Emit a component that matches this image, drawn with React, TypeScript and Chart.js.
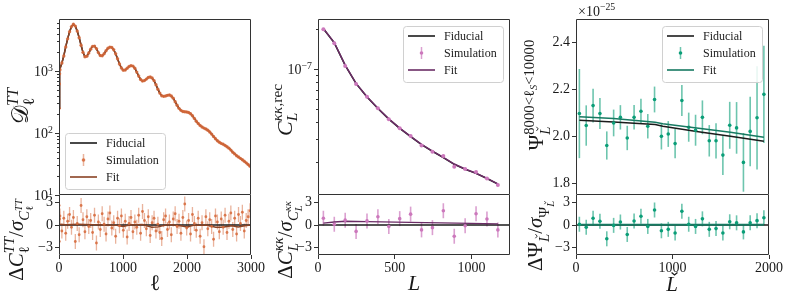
import React, { useEffect, useRef } from "react";
import { Chart, registerables } from "chart.js";
Chart.register(...registerables);

const W = 789;
const H = 300;
const FONT = '"Liberation Serif", "DejaVu Serif", "DejaVu Sans", serif';
const TEXT_C = "#1a1a1a";
const AXIS_C = "#333333";
const TICK_SIZE = 14;
const TITLE_SIZE = 21;

// ---------------- data: CMB TT ----------------
const TT_ELL = [2, 5, 9, 15, 45, 75, 105, 135, 165, 195, 225, 255, 285, 315, 345, 375, 405, 435, 465, 495, 525, 555, 585, 615, 645, 675, 705, 735, 765, 795, 825, 855, 885, 915, 945, 975, 1005, 1035, 1065, 1095, 1125, 1155, 1185, 1215, 1245, 1275, 1305, 1335, 1365, 1395, 1425, 1455, 1485, 1515, 1545, 1575, 1605, 1635, 1665, 1695, 1725, 1755, 1785, 1815, 1845, 1875, 1905, 1935, 1965, 1995, 2025, 2055, 2085, 2115, 2145, 2175, 2205, 2235, 2265, 2295, 2325, 2355, 2385, 2415, 2445, 2475, 2505, 2535, 2565, 2595, 2625, 2655, 2685, 2715, 2745, 2775, 2805, 2835, 2865, 2895, 2925, 2955, 2985];
const TT_DL = [250, 620, 900,
  1050, 1350, 1750, 2450, 3300, 4300, 5200, 5700, 5300, 4400,
  3450, 2600, 2000, 1700, 1730, 1950, 2250, 2500, 2520, 2300,
  1980, 1780, 1760, 1900, 2120, 2330, 2430, 2400, 2200, 1900,
  1580, 1300, 1120, 1030, 1040, 1110, 1180, 1220, 1200, 1110,
  960, 830, 730, 690, 700, 740, 785, 800, 770, 700,
  600, 510, 440, 400, 390, 395, 405, 410, 395, 365,
  320, 280, 250, 232, 222, 220, 218, 214, 205, 190,
  172, 155, 142, 132, 125, 120, 116, 111, 104, 96,
  88, 81, 75, 71, 68, 66, 63, 60, 57, 53,
  49, 46, 43, 41, 39, 37, 35, 33, 31, 29];
const TT_RES = [2.6, -2.2, 0.8,
  1.2, -0.8, 0.9, -1.1, 0.5, 1.4, -0.3, 1.0, -2.2, 0.2,
  -1.3, 2.6, 0.7, -0.9, 1.1, -0.2, 0.6, -1.0, 1.3, -2.4,
  0.4, -0.6, 1.5, 0.1, -1.2, 0.8, 1.6, -0.4, 0.3, -1.5,
  0.9, -0.1, 1.2, -0.7, 0.5, -1.6, 0.2, 1.0, -0.9, 0.4,
  -0.3, 1.3, -1.1, 1.8, 0.6, -0.5, 1.1, -1.4, 0.3, 0.9,
  -0.8, 0.1, -1.0, -1.8, 0.7, 1.2, -0.6, 0.4, -1.3, 0.8,
  1.5, -0.2, 0.5, -1.1, 1.0, 2.8, -0.4, 0.6, -1.2, 1.4,
  0.2, -0.7, 0.9, -1.5, 0.3, -2.9, 1.1, -0.5, 0.7, -0.2,
  -1.9, 1.2, 0.4, -0.9, 0.8, -0.3, 1.3, -1.0, 0.5, 1.6,
  -0.6, 0.9, -1.2, 1.4, 0.2, 1.7, -0.8, 0.6, 1.1, 1.9];
const TT_FITRES_ELL = [2, 100, 300, 500, 700, 900, 1000, 1100, 1300, 1450, 1550, 1700, 1900, 2000, 2100, 2300, 2450, 2550, 2700, 2800, 2900, 3000];
const TT_FITRES = [0.1, 0.05, 0.1, 0.05, 0.0, -0.05, -0.2, 0.0, 0.05, -0.3, -0.25, 0.05, -0.1, -0.25, -0.05, 0.0, -0.3, -0.3, -0.1, -0.25, -0.1, 0.0];
const TT_ZERO_X = [0, 3000];

// ---------------- data: lensing kappa-kappa ----------------
const KK_L = [35, 106, 177, 248, 319, 390, 461, 532, 603, 674, 745, 816, 887, 958, 1029, 1100, 1171];
const KK_SIM = [2.0e-7, 1.57e-7, 1.06e-7, 7.75e-8, 6.22e-8, 5.09e-8, 4.21e-8, 3.6e-8, 3.15e-8, 2.67e-8, 2.4e-8, 2.23e-8, 1.85e-8, 1.78e-8, 1.69e-8, 1.51e-8, 1.35e-8];
const KK_FID = [2.02e-7, 1.58e-7, 1.07e-7, 7.8e-8, 6.2e-8, 5.08e-8, 4.22e-8, 3.6e-8, 3.12e-8, 2.72e-8, 2.42e-8, 2.17e-8, 1.93e-8, 1.77e-8, 1.65e-8, 1.51e-8, 1.37e-8];
const KK_FIT = [2.03e-7, 1.59e-7, 1.075e-7, 7.84e-8, 6.23e-8, 5.1e-8, 4.24e-8, 3.61e-8, 3.13e-8, 2.73e-8, 2.43e-8, 2.18e-8, 1.94e-8, 1.78e-8, 1.655e-8, 1.515e-8, 1.375e-8];
const KK_RES = [0.9, 0.1, 0.65, -0.85, 0.55, 1.1, -0.2, 0.85, 1.45, -0.65, -0.35, 1.9, -1.5, -0.1, 1.5, 0.8, -0.65];
const KK_FITRES_L = [35, 106, 177, 320, 600, 900, 1171];
const KK_FITRES = [0.25, 0.4, 0.5, 0.45, 0.35, 0.25, 0.15];
const KK_ZERO_X = [0, 1250];

// ---------------- data: Psi ----------------
const PSI_L = [35, 106, 177, 248, 319, 390, 460, 531, 602, 673, 744, 814, 885, 956, 1027, 1097, 1168, 1239, 1310, 1381, 1451, 1522, 1593, 1664, 1735, 1805, 1876, 1947];
const PSI_SIM = [2.097, 2.046, 2.131, 2.097, 1.961, 2.057, 2.081, 1.993, 2.081, 2.107, 2.043, 2.157, 2.0, 2.01, 1.969, 2.153, 2.039, 2.026, 2.081, 1.981, 1.981, 1.92, 2.047, 2.036, 1.889, 2.021, 2.079, 2.179];
const PSI_ERR = [0.19, 0.086, 0.072, 0.066, 0.06, 0.057, 0.052, 0.052, 0.052, 0.053, 0.052, 0.055, 0.056, 0.055, 0.062, 0.066, 0.062, 0.066, 0.072, 0.067, 0.075, 0.085, 0.1, 0.11, 0.125, 0.148, 0.22, 0.207];
const PSI_RES = [0.1, -0.3, 0.9, 0.5, -1.84, -0.05, 0.4, -1.26, 0.53, 1.16, -0.19, 2.0, -0.77, -0.58, -1.06, 1.84, 0.1, -0.19, 0.82, -0.58, -0.48, -1.06, 0.43, 0.29, -0.92, 0.29, 0.58, 0.97];
const PSI_CURVE_L = [35, 390, 820, 900, 1250, 1600, 1947];
const PSI_FID = [2.069, 2.061, 2.05, 2.043, 2.021, 2.0, 1.979];
const PSI_FIT = [2.083, 2.076, 2.06, 2.054, 2.036, 2.017, 1.996];
const PSI_FITRES_L = [35, 1947];
const PSI_FITRES = [0.04, 0.04];
const PSI_ZERO_X = [0, 2000];

const ZERO_Y = [0, 0];
const RES_SIGMA = 1;

// ---------------- ticks ----------------
const TT_X_TICKS = [0, 1000, 2000, 3000];
const KK_X_TICKS = [0, 500, 1000];
const PSI_X_TICKS = [0, 1000, 2000];
const RES_Y_TICKS = [-3, 0, 3];
const PSI_Y_TICKS = [1.8, 2.0, 2.2, 2.4];
const TT_Y_MAJOR = [10, 100, 1000];
const TT_Y_EXP = ["1", "2", "3"];
const TT_Y_MINOR = [20, 30, 40, 50, 60, 70, 80, 90, 200, 300, 400, 500, 600, 700, 800, 900, 2000, 3000, 4000, 5000, 6000];
const KK_Y_MAJOR = [1e-7];
const KK_Y_EXP = ["−7"];
const KK_Y_MINOR = [2e-8, 3e-8, 4e-8, 5e-8, 6e-8, 7e-8, 8e-8, 9e-8, 2e-7];

// ---------------- colours ----------------
const FID_C = "#1b1b1b";
const TT_SIM_C = "rgba(214,104,58,0.85)";
const TT_BAR_C = "rgba(214,104,58,0.5)";
const TT_FIT_C = "#8a4325";
const KK_SIM_C = "#cc78bc";
const KK_BAR_C = "rgba(204,120,188,0.7)";
const KK_FIT_C = "#6b2d66";
const PSI_SIM_C = "#0b9e78";
const PSI_BAR_C = "rgba(11,158,120,0.6)";
const PSI_FIT_C = "#177a62";

// ---------------- layout ----------------
const Y_W = 45;
const X_H = 30;
const TOP = 19, MID = 195, BOT = 255;
const COLS = [
  { l: 59, r: 251 },
  { l: 318, r: 510 },
  { l: 576, r: 769 },
];

type Seg = { t: string; s?: number; dy?: number; it?: boolean; m?: boolean; r?: boolean; acc?: boolean };

function drawRich(ctx: CanvasRenderingContext2D, segs: Seg[], size: number, cx: number, cy: number, rot: boolean, align: string) {
  ctx.save();
  ctx.translate(cx, cy);
  if (rot) ctx.rotate(-Math.PI / 2);
  const placed: any[] = [];
  let x = 0;
  let mark = 0;
  for (const sg of segs) {
    const fs = size * (sg.s ?? 1);
    const font = `${sg.it ? "italic " : ""}${fs}px ${FONT}`;
    ctx.font = font;
    const w = ctx.measureText(sg.t).width;
    if (sg.m) mark = x;
    let start = x;
    let end = x + w;
    if (sg.r) {
      start = mark;
      end = Math.max(x, start + w);
    }
    placed.push({ sg, fs, font, start, w });
    x = end;
  }
  const off = align === "center" ? -x / 2 : align === "right" ? -x : 0;
  const base = size * 0.35;
  ctx.fillStyle = TEXT_C;
  ctx.textBaseline = "alphabetic";
  ctx.textAlign = "left";
  for (const p of placed) {
    ctx.font = p.font;
    const yy = base - (p.sg.dy ?? 0) * size;
    ctx.fillText(p.sg.t, off + p.start, yy);
    if (p.sg.acc) {
      // caron drawn as a small "v" above the capital letter
      const cxa = off + p.start + p.w / 2 + p.fs * 0.12;
      const top = yy - p.fs * 0.9;
      const hw = p.fs * 0.14;
      ctx.strokeStyle = TEXT_C;
      ctx.lineWidth = Math.max(0.9, p.fs * 0.06);
      ctx.beginPath();
      ctx.moveTo(cxa - hw, top);
      ctx.lineTo(cxa, top + p.fs * 0.12);
      ctx.lineTo(cxa + hw, top);
      ctx.stroke();
    }
  }
  ctx.restore();
}

function drawLegend(ctx: CanvasRenderingContext2D, lg: any) {
  const { x, y, w, h, rows } = lg;
  ctx.save();
  ctx.beginPath();
  (ctx as any).roundRect(x + 0.5, y + 0.5, w, h, 3);
  ctx.fillStyle = "rgba(255,255,255,0.85)";
  ctx.fill();
  ctx.strokeStyle = "#d0d0d0";
  ctx.lineWidth = 1;
  ctx.stroke();
  rows.forEach((row: any, i: number) => {
    const cy = y + 10 + i * 17;
    if (row.kind === "line") {
      ctx.strokeStyle = row.color;
      ctx.lineWidth = 1.6;
      ctx.beginPath();
      ctx.moveTo(x + 5, cy);
      ctx.lineTo(x + 32, cy);
      ctx.stroke();
    } else {
      ctx.strokeStyle = row.bar;
      ctx.lineWidth = 1.5;
      ctx.beginPath();
      ctx.moveTo(x + 18.5, cy - 6);
      ctx.lineTo(x + 18.5, cy + 6);
      ctx.stroke();
      ctx.fillStyle = row.color;
      ctx.beginPath();
      ctx.arc(x + 18.5, cy, 1.8, 0, Math.PI * 2);
      ctx.fill();
    }
    ctx.fillStyle = TEXT_C;
    ctx.font = `12px ${FONT}`;
    ctx.textAlign = "left";
    ctx.textBaseline = "middle";
    ctx.fillText(row.label, x + 41, cy + 0.5);
  });
  ctx.restore();
}

function makeDeco(spec: any) {
  return {
    id: "deco",
    beforeDatasetsDraw(chart: any) {
      const ctx = chart.ctx as CanvasRenderingContext2D;
      const a = chart.chartArea;
      chart.data.datasets.forEach((ds: any, i: number) => {
        if (ds.errs === undefined) return;
        const meta = chart.getDatasetMeta(i);
        const xs = chart.scales[meta.xAxisID];
        const ys = chart.scales[meta.yAxisID];
        ctx.save();
        ctx.beginPath();
        ctx.rect(a.left, a.top, a.right - a.left, a.bottom - a.top);
        ctx.clip();
        ctx.strokeStyle = ds.errColor;
        ctx.lineWidth = ds.errWidth;
        ds.data.forEach((p: any, j: number) => {
          const e = Array.isArray(ds.errs) ? ds.errs[j] : ds.errs;
          const px = xs.getPixelForValue(p.x);
          ctx.beginPath();
          ctx.moveTo(px, ys.getPixelForValue(p.y - e));
          ctx.lineTo(px, ys.getPixelForValue(p.y + e));
          ctx.stroke();
        });
        ctx.restore();
      });
    },
    afterDraw(chart: any) {
      const ctx = chart.ctx as CanvasRenderingContext2D;
      const a = chart.chartArea;
      const L = a.left + 0.5, R = a.right - 0.5, T = a.top + 0.5, B = a.bottom - 0.5;
      ctx.save();
      ctx.strokeStyle = AXIS_C;
      ctx.lineWidth = 1;
      ctx.beginPath();
      if (spec.noTopEdge) {
        ctx.moveTo(L, a.top);
        ctx.lineTo(L, B);
        ctx.lineTo(R, B);
        ctx.lineTo(R, a.top);
      } else {
        ctx.rect(L, T, R - L, B - T);
      }
      ctx.stroke();
      ctx.restore();
      if (spec.log) {
        const ys = chart.scales.y;
        ctx.save();
        ctx.strokeStyle = AXIS_C;
        ctx.lineWidth = 1;
        spec.log.minor.forEach((v: number) => {
          const py = Math.round(ys.getPixelForValue(v)) + 0.5;
          ctx.beginPath();
          ctx.moveTo(a.left - 2, py);
          ctx.lineTo(a.left, py);
          ctx.stroke();
        });
        spec.log.major.forEach((v: number, i: number) => {
          const py = Math.round(ys.getPixelForValue(v)) + 0.5;
          ctx.beginPath();
          ctx.moveTo(a.left - 4, py);
          ctx.lineTo(a.left, py);
          ctx.stroke();
          drawRich(ctx, [{ t: "10" }, { t: spec.log.exps[i], s: 0.7, dy: 0.42 }], TICK_SIZE, a.left - 6, py, false, "right");
        });
        ctx.restore();
      }
      (spec.texts || []).forEach((tx: any) => drawRich(ctx, tx.segs, tx.size, tx.x, tx.y, tx.rot, tx.align || "center"));
      if (spec.legend) drawLegend(ctx, spec.legend);
    },
  };
}

const pts = (xs: number[], ys: number[]) => xs.map((x, i) => ({ x, y: ys[i] }));
const lineDs = (xs: number[], ys: number[], color: string, order: number, width = 1.5) => ({
  data: pts(xs, ys), showLine: true, pointRadius: 0, borderColor: color, backgroundColor: color, borderWidth: width, tension: 0, order,
});
const markDs = (xs: number[], ys: number[], color: string, r: number, order: number, errs?: any, errColor?: string, errWidth = 1.3) => ({
  data: pts(xs, ys), showLine: false, pointRadius: r, pointBorderWidth: 0, borderWidth: 0, backgroundColor: color, pointBackgroundColor: color, borderColor: color, order, errs, errColor, errWidth,
});

function xScale(min: number, max: number, ticks: number[], show: boolean) {
  return {
    type: "linear", min, max, display: show,
    afterBuildTicks: (ax: any) => { ax.ticks = ticks.map((v) => ({ value: v })); },
    afterFit: (ax: any) => { ax.height = show ? X_H : 0; },
    grid: { display: true, drawOnChartArea: false, drawTicks: true, tickLength: 4, color: AXIS_C, lineWidth: 1 },
    border: { display: false },
    ticks: { autoSkip: false, maxRotation: 0, padding: 1, color: TEXT_C, font: { family: FONT, size: TICK_SIZE }, callback: (v: number) => String(v) },
  };
}
function yLinear(min: number, max: number, ticks: number[], fmt: (v: number) => string) {
  return {
    type: "linear", min, max,
    afterBuildTicks: (ax: any) => { ax.ticks = ticks.map((v) => ({ value: v })); },
    afterFit: (ax: any) => { ax.width = Y_W; },
    grid: { display: true, drawOnChartArea: false, drawTicks: true, tickLength: 4, color: AXIS_C, lineWidth: 1 },
    border: { display: false },
    ticks: { autoSkip: false, padding: 2, color: TEXT_C, font: { family: FONT, size: TICK_SIZE }, callback: fmt },
  };
}
function yLog(min: number, max: number) {
  return {
    type: "logarithmic", min, max,
    afterFit: (ax: any) => { ax.width = Y_W; },
    grid: { display: false }, border: { display: false }, ticks: { display: false },
  };
}
const resFmt = (v: number) => (v < 0 ? "−" + Math.abs(v) : String(v));

function makeConfig(col: number, top: boolean, xMin: number, xMax: number, xTicks: number[], y: any, datasets: any[], spec: any) {
  const c = COLS[col];
  const t = top ? TOP : MID;
  const b = top ? MID : BOT;
  return {
    type: "scatter",
    data: { datasets },
    options: {
      responsive: false, animation: false, devicePixelRatio: 1, events: [],
      layout: { padding: { left: c.l - Y_W, top: t, right: W - c.r, bottom: H - b - (top ? 0 : X_H) } },
      plugins: { legend: { display: false }, tooltip: { enabled: false } },
      scales: { x: xScale(xMin, xMax, xTicks, !top), y },
    },
    plugins: [makeDeco({ ...spec, noTopEdge: !top })],
  };
}

const legendRows = (sim: string, bar: string, fit: string) => [
  { kind: "line", color: FID_C, label: "Fiducial" },
  { kind: "err", color: sim, bar, label: "Simulation" },
  { kind: "line", color: fit, label: "Fit" },
];

const CONFIGS = [
  makeConfig(0, true, 0, 3000, TT_X_TICKS, yLog(10, 6900), [
    markDs(TT_ELL, TT_DL, TT_SIM_C, 1.7, 0),
    lineDs(TT_ELL, TT_DL, TT_FIT_C, 1),
    lineDs(TT_ELL, TT_DL, FID_C, 2),
  ], {
    log: { major: TT_Y_MAJOR, exps: TT_Y_EXP, minor: TT_Y_MINOR },
    legend: { x: 65, y: 133, w: 100, h: 56, rows: legendRows(TT_SIM_C, TT_BAR_C, TT_FIT_C) },
    texts: [{ segs: [{ t: "𝒟" }, { t: "TT", s: 0.7, dy: 0.45, it: true, m: true }, { t: "ℓ", s: 0.7, dy: -0.25, r: true }], size: 23, x: 20, y: 106, rot: true }],
  }),
  makeConfig(0, false, 0, 3000, TT_X_TICKS, yLinear(-4, 4, RES_Y_TICKS, resFmt), [
    markDs(TT_ELL, TT_RES, TT_SIM_C, 1.4, 0, RES_SIGMA, TT_BAR_C, 1.3),
    lineDs(TT_FITRES_ELL, TT_FITRES, TT_FIT_C, 1),
    lineDs(TT_ZERO_X, ZERO_Y, FID_C, 2),
  ], {
    texts: [
      { segs: [{ t: "Δ" }, { t: "C", it: true }, { t: "TT", s: 0.7, dy: 0.45, it: true, m: true }, { t: "ℓ", s: 0.7, dy: -0.25, r: true }, { t: "/" }, { t: "σ", it: true }, { t: "C", s: 0.7, dy: -0.25, it: true }, { t: "TT", s: 0.5, dy: 0.05, it: true, m: true }, { t: "ℓ", s: 0.5, dy: -0.45, r: true }], size: TITLE_SIZE, x: 16, y: 240, rot: true },
      { segs: [{ t: "ℓ" }], size: 22, x: 155, y: 282, rot: false },
    ],
  }),
  makeConfig(1, true, 0, 1250, KK_X_TICKS, yLog(1.135e-8, 2.39e-7), [
    markDs(KK_L, KK_SIM, KK_SIM_C, 2, 0),
    lineDs(KK_L, KK_FIT, KK_FIT_C, 1),
    lineDs(KK_L, KK_FID, FID_C, 2),
  ], {
    log: { major: KK_Y_MAJOR, exps: KK_Y_EXP, minor: KK_Y_MINOR },
    legend: { x: 403, y: 26, w: 100, h: 56, rows: legendRows(KK_SIM_C, KK_BAR_C, KK_FIT_C) },
    texts: [{ segs: [{ t: "C", it: true }, { t: "κκ", s: 0.7, dy: 0.45, it: true, m: true }, { t: ",rec", s: 0.7, dy: 0.45 }, { t: "L", s: 0.7, dy: -0.25, it: true, r: true }], size: 22, x: 284, y: 110, rot: true }],
  }),
  makeConfig(1, false, 0, 1250, KK_X_TICKS, yLinear(-4, 4, RES_Y_TICKS, resFmt), [
    markDs(KK_L, KK_RES, KK_SIM_C, 1.8, 0, RES_SIGMA, KK_BAR_C, 1.6),
    lineDs(KK_FITRES_L, KK_FITRES, KK_FIT_C, 1),
    lineDs(KK_ZERO_X, ZERO_Y, FID_C, 2),
  ], {
    texts: [
      { segs: [{ t: "Δ" }, { t: "C", it: true }, { t: "κκ", s: 0.7, dy: 0.45, it: true, m: true }, { t: "L", s: 0.7, dy: -0.25, it: true, r: true }, { t: "/" }, { t: "σ", it: true }, { t: "C", s: 0.7, dy: -0.25, it: true }, { t: "κκ", s: 0.5, dy: 0.05, it: true, m: true }, { t: "L", s: 0.5, dy: -0.45, it: true, r: true }], size: TITLE_SIZE, x: 285, y: 240, rot: true },
      { segs: [{ t: "L", it: true }], size: 22, x: 414, y: 282, rot: false },
    ],
  }),
  makeConfig(2, true, 0, 2000, PSI_X_TICKS, yLinear(1.75, 2.5, PSI_Y_TICKS, (v: number) => v.toFixed(1)), [
    markDs(PSI_L, PSI_SIM, PSI_SIM_C, 1.8, 1, PSI_ERR, PSI_BAR_C, 1.6),
    lineDs(PSI_CURVE_L, PSI_FIT, PSI_FIT_C, 0),
    lineDs(PSI_CURVE_L, PSI_FID, FID_C, 2),
  ], {
    legend: { x: 662, y: 26, w: 100, h: 56, rows: legendRows(PSI_SIM_C, PSI_BAR_C, PSI_FIT_C) },
    texts: [
      { segs: [{ t: "Ψ" }, { t: "8000<ℓ", s: 0.7, dy: 0.45, m: true }, { t: "S", s: 0.5, dy: 0.3, it: true }, { t: "<10000", s: 0.7, dy: 0.45 }, { t: "L", s: 0.7, dy: -0.3, it: true, r: true, acc: true }], size: TITLE_SIZE, x: 536, y: 95, rot: true },
      { segs: [{ t: "×10" }, { t: "−25", s: 0.7, dy: 0.42 }], size: 14, x: 578, y: 11, rot: false, align: "left" },
    ],
  }),
  makeConfig(2, false, 0, 2000, PSI_X_TICKS, yLinear(-4, 4, RES_Y_TICKS, resFmt), [
    markDs(PSI_L, PSI_RES, PSI_SIM_C, 1.8, 0, RES_SIGMA, PSI_BAR_C, 1.6),
    lineDs(PSI_FITRES_L, PSI_FITRES, PSI_FIT_C, 1, 2),
    lineDs(PSI_ZERO_X, ZERO_Y, FID_C, 2),
  ], {
    texts: [
      { segs: [{ t: "ΔΨ" }, { t: "L", s: 0.7, dy: -0.3, it: true, acc: true }, { t: "/" }, { t: "σ", it: true }, { t: "Ψ", s: 0.7, dy: -0.3 }, { t: "L", s: 0.5, dy: -0.55, it: true, acc: true }], size: TITLE_SIZE, x: 535, y: 236, rot: true },
      { segs: [{ t: "L", it: true, acc: true }], size: 21, x: 672, y: 284, rot: false },
    ],
  }),
];

function ChartCanvas({ config }: { config: any }) {
  const ref = useRef<HTMLCanvasElement>(null);
  useEffect(() => {
    const chart = new Chart(ref.current as HTMLCanvasElement, config);
    return () => chart.destroy();
  }, [config]);
  return <canvas ref={ref} width={W} height={H} style={{ position: "absolute", left: 0, top: 0, width: W, height: H }} />;
}

export default function App() {
  return (
    <div style={{ position: "fixed", left: 0, top: 0, width: W, height: H, background: "#ffffff", overflow: "hidden" }}>
      {CONFIGS.map((cfg, i) => (
        <ChartCanvas key={i} config={cfg} />
      ))}
    </div>
  );
}
